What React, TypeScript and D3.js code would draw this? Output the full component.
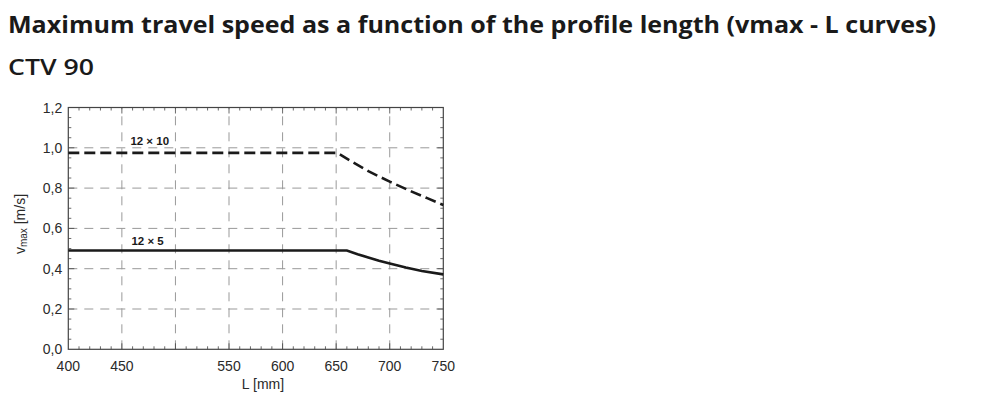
import React from "react";
import * as d3 from "d3";

const title = "Maximum travel speed as a function of the profile length (vmax - L curves)";
const subtitle = "CTV 90";

const xTickValues = [400, 450, 550, 600, 650, 700, 750];
const xGridValues = [450, 500, 550, 600, 650, 700];
const yTickValues = [0, 0.2, 0.4, 0.6, 0.8, 1.0, 1.2];
const yTickLabels = ["0,0", "0,2", "0,4", "0,6", "0,8", "1,0", "1,2"];

const series12x10L = [400, 651, 665, 680, 700, 720, 735, 750];
const series12x10V = [0.975, 0.975, 0.93, 0.884, 0.832, 0.784, 0.75, 0.716];
const series12x5L = [400, 660, 670, 680, 690, 700, 715, 730, 750];
const series12x5V = [0.49, 0.49, 0.472, 0.456, 0.44, 0.426, 0.406, 0.389, 0.372];

const seriesNames = ["12 × 10", "12 × 5"];
const labelL = [476, 474];

const W = 1000, H = 404;
const m = { left: 68.3, right: 443.3, top: 107.5, bottom: 349.3 };

export default function App() {
  const x = d3.scaleLinear().domain([400, 750]).range([m.left, m.right]);
  const y = d3.scaleLinear().domain([0, 1.2]).range([m.bottom, m.top]);
  const line = d3
    .line<[number, number]>()
    .x((d) => x(d[0]))
    .y((d) => y(d[1]))
    .curve(d3.curveLinear);
  const d10 = line(series12x10L.map((l, i) => [l, series12x10V[i]] as [number, number])) || "";
  const d5 = line(series12x5L.map((l, i) => [l, series12x5V[i]] as [number, number])) || "";

  const xMinor = d3.range(410, 750, 10).filter((v) => v % 50 !== 0);
  const yMinor = d3.range(0.05, 1.2, 0.05).filter((v) => Math.abs(v * 5 - Math.round(v * 5)) > 1e-6);
  const axisColor = "#444";
  const gridColor = "#999";
  const tickFont = "'Liberation Sans', Arial, sans-serif";

  return (
    <div style={{ position: "absolute", left: 0, top: 0 }}>
      <svg width={W} height={H} style={{ display: "block", background: "#fff" }}>
        <text x={8} y={33} fontFamily="'Open Sans', sans-serif" fontWeight={700} fontSize={23} fill="#1a1a1a" textLength={928} lengthAdjust="spacingAndGlyphs">
          {title}
        </text>
        <text x={8} y={75} fontFamily="'Open Sans', sans-serif" fontWeight={600} fontSize={21} fill="#1a1a1a" textLength={86} lengthAdjust="spacingAndGlyphs">
          {subtitle}
        </text>

        {/* grid */}
        <g stroke={gridColor} strokeWidth={1} strokeDasharray="9,7" fill="none">
          {xGridValues.map((v) => (
            <line key={"gx" + v} x1={x(v)} x2={x(v)} y1={m.bottom} y2={m.top} />
          ))}
          {yTickValues.slice(1, -1).map((v) => (
            <line key={"gy" + v} x1={m.left} x2={m.right} y1={y(v)} y2={y(v)} />
          ))}
        </g>

        {/* ticks */}
        <g stroke={axisColor} strokeWidth={0.8}>
          {xMinor.map((v) => (
            <g key={"mx" + v}>
              <line x1={x(v)} x2={x(v)} y1={m.bottom} y2={m.bottom - 3} />
              <line x1={x(v)} x2={x(v)} y1={m.top} y2={m.top + 3} />
            </g>
          ))}
          {yMinor.map((v) => (
            <g key={"my" + v.toFixed(2)}>
              <line x1={m.left} x2={m.left + 3} y1={y(v)} y2={y(v)} />
              <line x1={m.right} x2={m.right - 3} y1={y(v)} y2={y(v)} />
            </g>
          ))}
          {xGridValues.map((v) => (
            <g key={"Mx" + v}>
              <line x1={x(v)} x2={x(v)} y1={m.bottom} y2={m.bottom - 6} />
              <line x1={x(v)} x2={x(v)} y1={m.top} y2={m.top + 6} />
            </g>
          ))}
          {yTickValues.slice(1, -1).map((v) => (
            <g key={"My" + v}>
              <line x1={m.left} x2={m.left + 6} y1={y(v)} y2={y(v)} />
              <line x1={m.right} x2={m.right - 6} y1={y(v)} y2={y(v)} />
            </g>
          ))}
        </g>

        <rect x={m.left} y={m.top} width={m.right - m.left} height={m.bottom - m.top} fill="none" stroke={axisColor} strokeWidth={1.2} />

        {/* tick labels */}
        <g fontFamily={tickFont} fontSize={14} fill="#2a2a2a">
          {yTickValues.map((v, i) => (
            <text key={"ty" + v} x={m.left - 6} y={y(v) + 5} textAnchor="end">
              {yTickLabels[i]}
            </text>
          ))}
          {xTickValues.map((v) => (
            <text key={"tx" + v} x={x(v)} y={371} textAnchor="middle">
              {v}
            </text>
          ))}
          <text x={263} y={389} textAnchor="middle">L [mm]</text>
          <text transform="translate(25,224) rotate(-90)" textAnchor="middle">
            v<tspan fontSize={10} dy={2}>max</tspan>
            <tspan dy={-2}> [m/s]</tspan>
          </text>
        </g>

        {/* series */}
        <path d={d10} fill="none" stroke="#1a1a1a" strokeWidth={2.6} strokeDasharray="11,5" />
        <path d={d5} fill="none" stroke="#1a1a1a" strokeWidth={2.6} />

        <g fontFamily={tickFont} fontSize={11.5} fontWeight={700} fill="#1a1a1a" textAnchor="middle">
          <text x={x(labelL[0])} y={y(series12x10V[0]) - 8}>{seriesNames[0]}</text>
          <text x={x(labelL[1])} y={y(series12x5V[0]) - 6}>{seriesNames[1]}</text>
        </g>
      </svg>
    </div>
  );
}
